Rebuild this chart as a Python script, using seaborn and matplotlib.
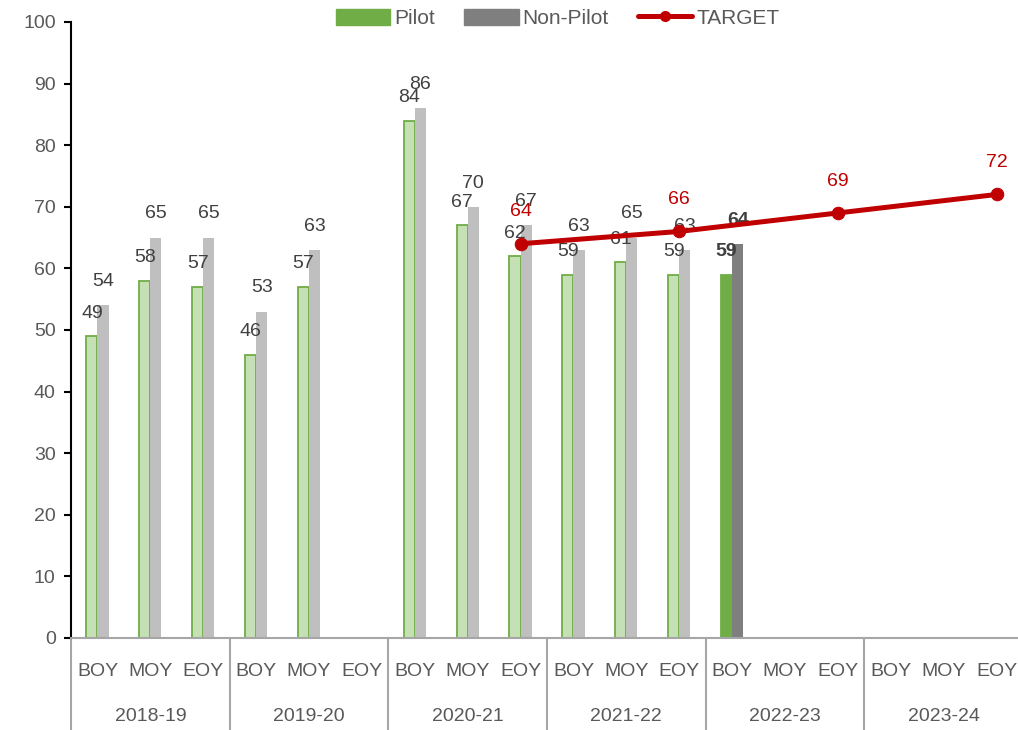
import numpy as np
import pandas as pd
import matplotlib
matplotlib.use("Agg")
import matplotlib.pyplot as plt
import matplotlib.transforms as mtrans
from matplotlib.patches import Patch
from matplotlib.lines import Line2D
import seaborn as sns

# ---------------- data ----------------
years = ["2018-19", "2019-20", "2020-21", "2021-22", "2022-23", "2023-24"]
terms = ["BOY", "MOY", "EOY"]
pilot = [49, 58, 57, 46, 57, np.nan, 84, 67, 62, 59, 61, 59, 59, np.nan, np.nan, np.nan, np.nan, np.nan]
non_pilot = [54, 65, 65, 53, 63, np.nan, 86, 70, 67, 63, 65, 63, 64, np.nan, np.nan, np.nan, np.nan, np.nan]
target = [np.nan] * 8 + [64, np.nan, np.nan, 66, np.nan, np.nan, 69, np.nan, np.nan, 72]
highlight_idx = 12  # 2022-23 BOY shown in solid colours with bold labels

cats = [f"{y} {t}" for y in years for t in terms]
df = pd.DataFrame({
    "cat": cats * 2,
    "series": ["Pilot"] * len(cats) + ["Non-Pilot"] * len(cats),
    "value": pilot + non_pilot,
})

# ---------------- style ----------------
sns.set_style("white")
plt.rcParams["font.family"] = ["Liberation Sans", "DejaVu Sans"]
TXT = "#595959"
LBL = "#404040"
RED = "#c00000"
GREEN = "#70ad47"
LGREEN = "#c5e0b4"
LGRAY = "#bfbfbf"
DGRAY = "#7f7f7f"
FS = 14

fig = plt.figure(figsize=(10.18, 7.30), dpi=100)
ax = fig.add_axes([71 / 1018, 92 / 730, 952 / 1018, 616 / 730])

sns.barplot(data=df, x="cat", y="value", hue="series", order=cats,
            hue_order=["Pilot", "Non-Pilot"], palette=[GREEN, DGRAY],
            width=0.42, saturation=1, errorbar=None, legend=False, ax=ax)

# recolour bars
for ci, cont in enumerate(ax.containers):
    for p in cont.patches:
        idx = int(round(p.get_x() + p.get_width() / 2 + (0.105 if ci == 0 else -0.105)))
        if ci == 0:
            if idx == highlight_idx:
                p.set_facecolor(GREEN); p.set_edgecolor(GREEN)
            else:
                p.set_facecolor(LGREEN); p.set_edgecolor(GREEN)
            p.set_linewidth(1.3)
        else:
            p.set_facecolor(DGRAY if idx == highlight_idx else LGRAY)
            p.set_linewidth(0)

# bar value labels
for i, v in enumerate(pilot):
    if not np.isnan(v):
        ax.annotate(f"{v:.0f}", (i - 0.105, v), xytext=(0, 16.5), textcoords="offset points",
                    ha="center", va="center", fontsize=FS, color=LBL,
                    fontweight="bold" if i == highlight_idx else "normal")
for i, v in enumerate(non_pilot):
    if not np.isnan(v):
        ax.annotate(f"{v:.0f}", (i + 0.105, v), xytext=(0, 17), textcoords="offset points",
                    ha="center", va="center", fontsize=FS, color=LBL,
                    fontweight="bold" if i == highlight_idx else "normal")

# target line
tdf = pd.DataFrame({"x": np.arange(len(cats)), "target": target}).dropna()
sns.lineplot(data=tdf, x="x", y="target", color=RED, linewidth=3.6, marker="o",
             markersize=9, markeredgecolor=RED, ax=ax, zorder=5)
for x, v in zip(tdf["x"], tdf["target"]):
    ax.annotate(f"{v:.0f}", (x, v), xytext=(0, 23), textcoords="offset points",
                ha="center", va="center", fontsize=FS, color=RED)

# axes
ax.set_xlim(-0.5, len(cats) - 0.5)
ax.set_ylim(0, 100)
ax.set_yticks(range(0, 101, 10))
ax.tick_params(axis="y", labelsize=FS, labelcolor=TXT, length=5, width=1.5,
               color="black", direction="out", left=True, pad=6)
ax.set_xticks([])
ax.set_xlabel("")
ax.set_ylabel("")
for s in ["top", "right"]:
    ax.spines[s].set_visible(False)
ax.spines["left"].set_color("black")
ax.spines["left"].set_linewidth(1.5)
ax.spines["bottom"].set_color("#a6a6a6")
ax.spines["bottom"].set_linewidth(1.5)

# two-level x axis labels
tr = mtrans.blended_transform_factory(ax.transData, ax.transAxes)
for i, c in enumerate(cats):
    ax.text(i, -0.055, terms[i % 3], transform=tr, ha="center", va="center",
            fontsize=FS, color=TXT, clip_on=False)
for g, y in enumerate(years):
    ax.text(g * 3 + 1, -0.128, y, transform=tr, ha="center", va="center",
            fontsize=FS, color=TXT, clip_on=False)
for g in range(len(years) + 1):
    ax.plot([g * 3 - 0.5, g * 3 - 0.5], [0, -0.2], transform=tr, color="#a6a6a6",
            lw=1.5, clip_on=False)

# legend
handles = [Patch(facecolor=GREEN, edgecolor=GREEN),
           Patch(facecolor=DGRAY, edgecolor=DGRAY),
           Line2D([0], [0], color=RED, lw=3.6, marker="o", markersize=7)]
leg = fig.legend(handles, ["Pilot", "Non-Pilot", "TARGET"], loc="center",
                 bbox_to_anchor=(0.548, 0.975), ncol=3, frameon=False,
                 fontsize=15, handlelength=2.6, handleheight=0.8,
                 columnspacing=1.4, handletextpad=0.2, labelcolor=TXT)

fig.savefig("out.png", dpi=100)
